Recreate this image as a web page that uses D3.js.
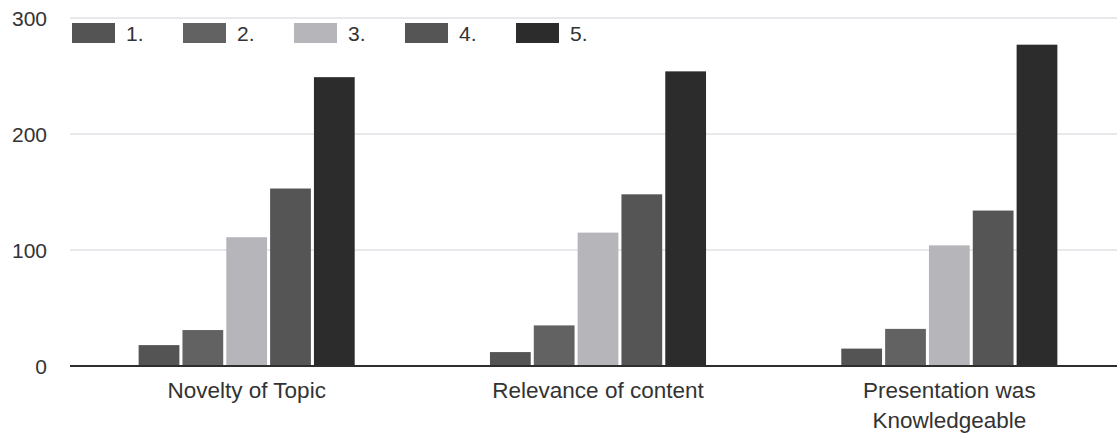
<!DOCTYPE html>
<html>
<head>
<meta charset="utf-8">
<script src="https://cdn.jsdelivr.net/npm/d3@7"></script>
<style>
  html, body { margin: 0; padding: 0; background: #fff; }
  svg { display: block; font-family: "Liberation Sans", Arial, sans-serif; }
</style>
</head>
<body>
<svg id="chart" width="1117" height="435"></svg>
<script>
const categories = [["Novelty of Topic"], ["Relevance of content"], ["Presentation was", "Knowledgeable"]];
const seriesNames = ["1.", "2.", "3.", "4.", "5."];
const s1 = [18, 12, 15];
const s2 = [31, 35, 32];
const s3 = [111, 115, 104];
const s4 = [153, 148, 134];
const s5 = [249, 254, 277];
const seriesValues = [s1, s2, s3, s4, s5];
const yTicks = [0, 100, 200, 300];
const colors = ["#545454", "#626262", "#b6b5ba", "#555555", "#2c2c2c"];

const svg = d3.select("#chart");
const W = 1117;
const y = d3.scaleLinear().domain([0, 300]).range([366, 18]);
const x0 = d3.scaleBand().domain(d3.range(categories.length)).range([71, 1125])
  .paddingInner(0.385).paddingOuter(0.1925);
const x1 = d3.scaleBand().domain(d3.range(seriesNames.length)).range([0, x0.bandwidth()])
  .paddingInner(0.07).paddingOuter(0);

// y axis labels
const yAxis = d3.axisLeft(y).tickValues(yTicks).tickSize(0).tickPadding(0).tickFormat(d3.format("d"));
const gy = svg.append("g").attr("transform", "translate(47,0)").call(yAxis);
gy.select(".domain").remove();
gy.selectAll("text").attr("font-size", 21).attr("fill", "#333").attr("dy", "0.35em")
  .attr("font-family", "Liberation Sans, Arial, sans-serif");

// gridlines
svg.append("g").selectAll("line").data(yTicks.filter(d => d > 0)).join("line")
  .attr("x1", 70).attr("x2", W).attr("y1", d => y(d)).attr("y2", d => y(d))
  .attr("stroke", "#d2d1da").attr("stroke-width", 1);

// bars
const groups = svg.append("g").selectAll("g").data(categories).join("g")
  .attr("transform", (d, i) => `translate(${x0(i)},0)`);
groups.selectAll("rect").data((d, i) => seriesValues.map((s, k) => ({k, v: s[i]}))).join("rect")
  .attr("x", d => x1(d.k)).attr("width", x1.bandwidth())
  .attr("y", d => y(d.v)).attr("height", d => y(0) - y(d.v))
  .attr("fill", d => colors[d.k]);

// zero line
svg.append("line").attr("x1", 70).attr("x2", W).attr("y1", y(0)).attr("y2", y(0))
  .attr("stroke", "#2e2e2e").attr("stroke-width", 2);

// category labels
const xAxis = d3.axisBottom(x0).tickSize(0).tickFormat(() => "");
const gx = svg.append("g").attr("transform", `translate(0,${y(0)})`).call(xAxis);
gx.select(".domain").remove();
gx.selectAll(".tick").each(function(d) {
  const t = d3.select(this).append("text").attr("text-anchor", "middle")
    .attr("font-size", 22.5).attr("fill", "#333").attr("x", 0)
    .attr("font-family", "Liberation Sans, Arial, sans-serif");
  categories[d].forEach((line, j) => {
    t.append("tspan").attr("x", 0).attr("y", 32 + j * 30).text(line);
  });
});

// legend
const legend = svg.append("g").selectAll("g").data(seriesNames).join("g")
  .attr("transform", (d, i) => `translate(${72 + i * 111},23)`);
legend.append("rect").attr("width", 43).attr("height", 20).attr("fill", (d, i) => colors[i]);
legend.append("text").attr("x", 54).attr("y", 10).attr("dy", "0.36em")
  .attr("font-size", 21).attr("fill", "#333").text(d => d);
</script>
</body>
</html>
